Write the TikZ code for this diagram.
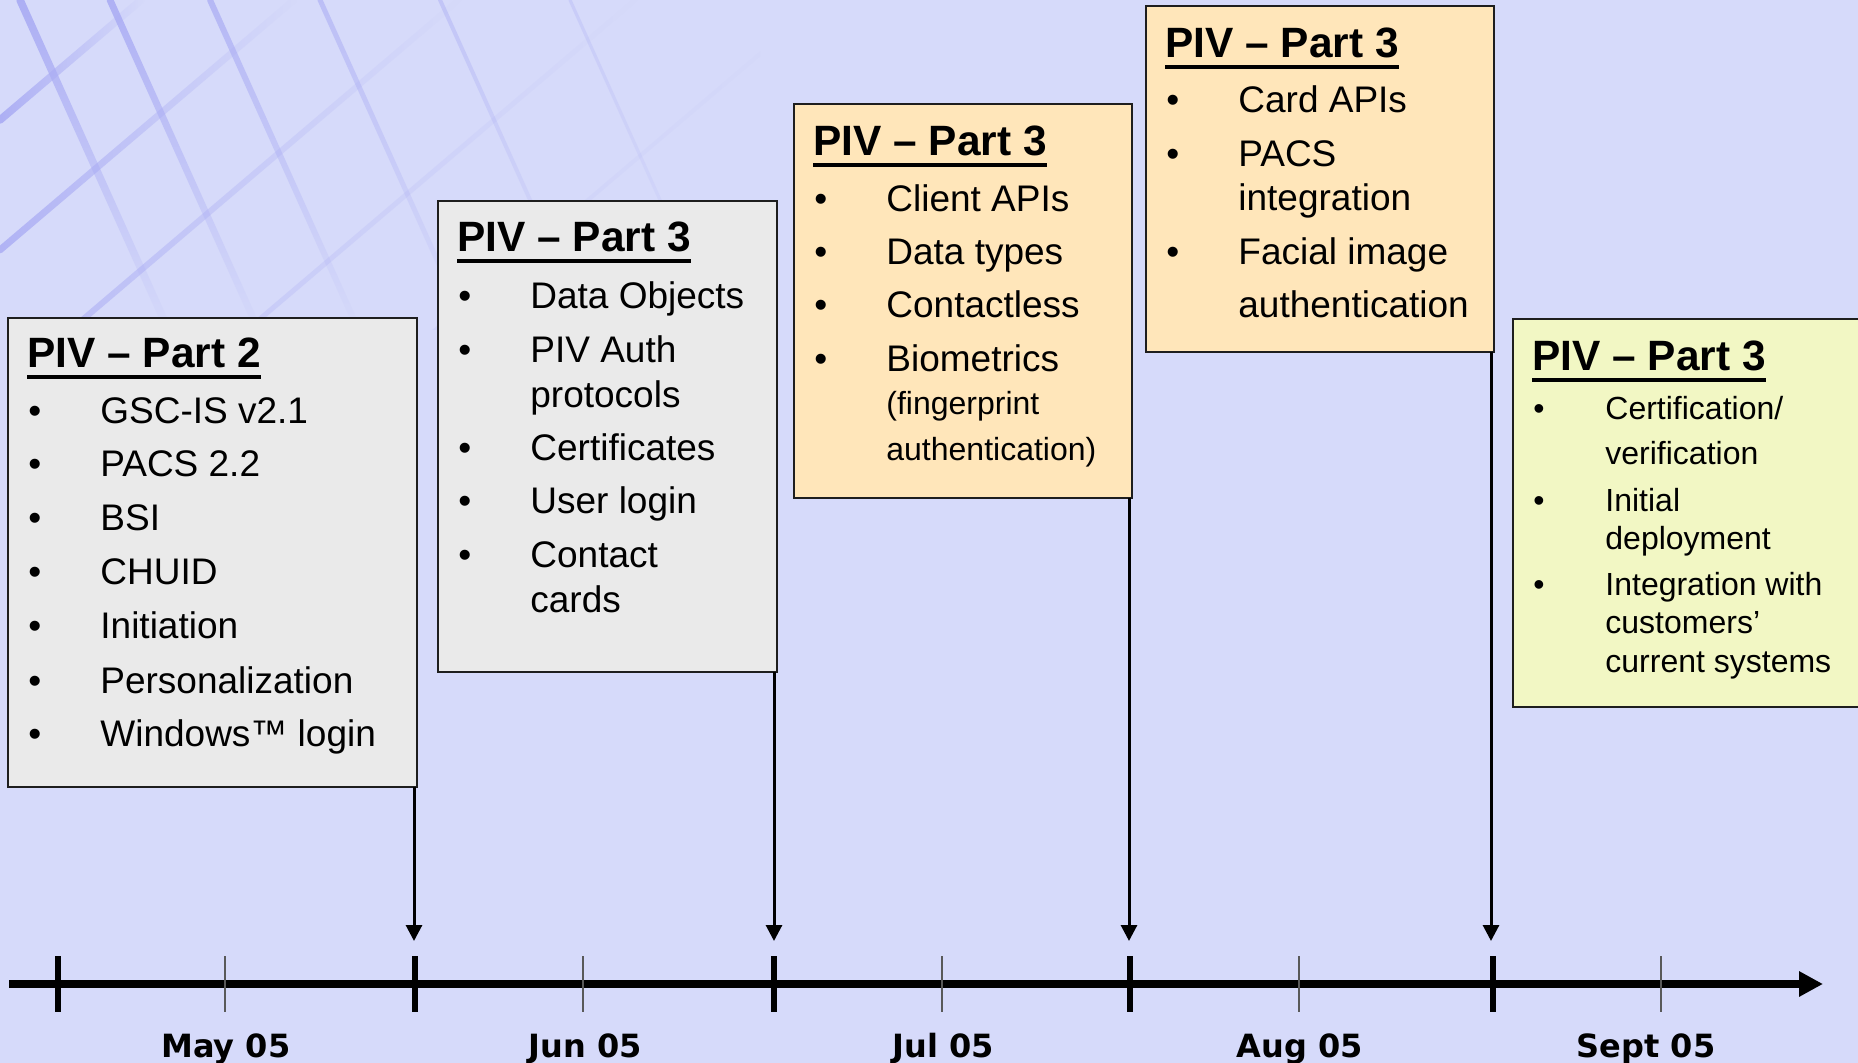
\documentclass[tikz,border=0pt]{standalone}
\usepackage{fontspec}
\setmainfont{Liberation Sans}
\newfontfamily\datefont{DejaVu Sans}
\usetikzlibrary{arrows.meta,fadings}
\definecolor{bg}{RGB}{214,218,250}
\definecolor{gridc}{RGB}{170,172,244}
\definecolor{grayfill}{RGB}{234,234,234}
\definecolor{peach}{RGB}{255,230,186}
\definecolor{lime}{RGB}{242,247,196}
\definecolor{edge}{RGB}{30,30,30}
\newcommand\ttl[1]{\setbox0=\hbox{#1}\rlap{\rule[-5.6pt]{\wd0}{2pt}}\box0}
\begin{document}
\begin{tikzpicture}[x=0.5pt,y=-0.5pt,
  panel/.style={draw=edge, line width=1.1pt, anchor=north west, inner sep=0pt, outer sep=0pt},
  head/.style={anchor=base west, inner sep=0pt, font=\fontsize{21.2pt}{24pt}\selectfont\bfseries},
  item/.style={anchor=base west, inner sep=0pt, font=\fontsize{18.5pt}{22pt}\selectfont},
  small/.style={anchor=base west, inner sep=0pt, font=\fontsize{16pt}{19pt}\selectfont},
  datelab/.style={anchor=base, inner sep=0pt, font=\datefont\fontsize{16pt}{19pt}\selectfont\bfseries},
  conn/.style={line width=1.5pt, -{Triangle[length=8pt,width=8pt]}},
  axisline/.style={line width=4.2pt, -{Triangle[length=12pt,width=12pt]}},
  major/.style={line width=3pt},
  minor/.style={line width=0.6pt, black!65},
  gridline/.style={gridc, line cap=round}]
\useasboundingbox (0,0) rectangle (1858,1063);
\clip (0,0) rectangle (1858,1063);
\fill[bg] (0,0) rectangle (1858,1063);
% background grid
\begin{scope}
\clip (0,0) rectangle (760,330);
\foreach \c/\o/\w in {120/0.95/3.8, 250/0.85/3.4, 390/0.7/3, 540/0.5/2.5, 700/0.35/2}
  \draw[gridline, line width=\w pt, opacity=\o, path fading=east] (0,\c) -- ({\c/0.85},0);
\foreach \d/\o/\w in {20/0.95/3.8, 110/0.9/3.4, 210/0.75/3, 320/0.6/2.5, 440/0.45/2, 570/0.3/1.6}
  \draw[gridline, line width=\w pt, opacity=\o, path fading=south] (\d,0) -- ({\d+0.45*330},330);
\end{scope}
% panels
\node[panel, fill=grayfill, minimum width=204.5pt, minimum height=234.5pt] (b1) at (8,318) {};
\node[panel, fill=grayfill, minimum width=169.5pt, minimum height=235.5pt] (b2) at (438,201) {};
\node[panel, fill=peach, minimum width=169pt, minimum height=197pt] (b3) at (794,104) {};
\node[panel, fill=peach, minimum width=174pt, minimum height=173pt] (b4) at (1146,6) {};
\node[panel, fill=lime, minimum width=180pt, minimum height=194pt] (b5) at (1513,319) {};
% box 1
\node[head] (h1) at (27,368) {\ttl{PIV – Part 2}};
\node[item] (p1ab) at (28,424) {•}; \node[item] (p1a) at (100,424) {GSC-IS v2.1};
\node[item] (p1bb) at (28,477) {•}; \node[item] (p1b) at (100,477) {PACS 2.2};
\node[item] (p1cb) at (28,531) {•}; \node[item] (p1c) at (100,531) {BSI};
\node[item] (p1db) at (28,585) {•}; \node[item] (p1d) at (100,585) {CHUID};
\node[item] (p1eb) at (28,639) {•}; \node[item] (p1e) at (100,639) {Initiation};
\node[item] (p1fb) at (28,693) {•}; \node[item] (p1f) at (100,693) {Personalization};
\node[item] (p1gb) at (28,746) {•}; \node[item] (p1g) at (100,746) {Windows™ login};
% box 2
\node[head] (h2) at (457,252) {\ttl{PIV – Part 3}};
\node[item] (p2ab) at (458,309) {•}; \node[item] (p2a) at (530,309) {Data Objects};
\node[item] (p2bb) at (458,363) {•}; \node[item] (p2b) at (530,363) {PIV Auth};
\node[item] (p2b2) at (530,408) {protocols};
\node[item] (p2cb) at (458,461) {•}; \node[item] (p2c) at (530,461) {Certificates};
\node[item] (p2db) at (458,514) {•}; \node[item] (p2d) at (530,514) {User login};
\node[item] (p2eb) at (458,568) {•}; \node[item] (p2e) at (530,568) {Contact};
\node[item] (p2e2) at (530,613) {cards};
% box 3
\node[head] (h3) at (813,156) {\ttl{PIV – Part 3}};
\node[item] (p3ab) at (814,212) {•}; \node[item] (p3a) at (886,212) {Client APIs};
\node[item] (p3bb) at (814,265) {•}; \node[item] (p3b) at (886,265) {Data types};
\node[item] (p3cb) at (814,318) {•}; \node[item] (p3c) at (886,318) {Contactless};
\node[item] (p3db) at (814,372) {•}; \node[item] (p3d) at (886,372) {Biometrics};
\node[small] (p3d2) at (886,415) {(fingerprint};
\node[small] (p3d3) at (886,461) {authentication)};
% box 4
\node[head] (h4) at (1165,58) {\ttl{PIV – Part 3}};
\node[item] (p4ab) at (1166,113) {•}; \node[item] (p4a) at (1238,113) {Card APIs};
\node[item] (p4bb) at (1166,167) {•}; \node[item] (p4b) at (1238,167) {PACS};
\node[item] (p4b2) at (1238,211) {integration};
\node[item] (p4cb) at (1166,265) {•}; \node[item] (p4c) at (1238,265) {Facial image};
\node[item] (p4c2) at (1238,318) {authentication};
% box 5
\node[head] (h5) at (1532,371) {\ttl{PIV – Part 3}};
\node[small] (p5ab) at (1533,420) {•}; \node[small] (p5a) at (1605,420) {Certification/};
\node[small] (p5a2) at (1605,465) {verification};
\node[small] (p5bb) at (1533,512) {•}; \node[small] (p5b) at (1605,512) {Initial};
\node[small] (p5b2) at (1605,550) {deployment};
\node[small] (p5cb) at (1533,596) {•}; \node[small] (p5c) at (1605,596) {Integration with};
\node[small] (p5c2) at (1605,633) {customers’};
\node[small] (p5c3) at (1605,672) {current systems};
% timeline
\coordinate (axs) at (9,984);
\coordinate (axe) at (1823,984);
\draw[axisline] (axs) -- (axe);
\foreach \x in {58,415,774,1130,1493} \draw[major] (\x,956) -- (\x,1012);
\foreach \x in {225,583,942,1299,1661} \draw[minor] (\x,956) -- (\x,1012);
% milestone arrows
\coordinate (a1) at (414,941);
\coordinate (a2) at (774,941);
\coordinate (a3) at (1129,941);
\coordinate (a4) at (1491,941);
\draw[conn] ([xshift=-1.5pt]b1.south east) -- (a1);
\draw[conn] ([xshift=-1.5pt]b2.south east) -- (a2);
\draw[conn] ([xshift=-1.5pt]b3.south east) -- (a3);
\draw[conn] ([xshift=-1.5pt]b4.south east) -- (a4);
% dates
\node[datelab] (d1) at (226,1057) {May 05};
\node[datelab] (d2) at (585,1057) {Jun 05};
\node[datelab] (d3) at (943,1057) {Jul 05};
\node[datelab] (d4) at (1300,1057) {Aug 05};
\node[datelab] (d5) at (1646,1057) {Sept 05};
\end{tikzpicture}
\end{document}
